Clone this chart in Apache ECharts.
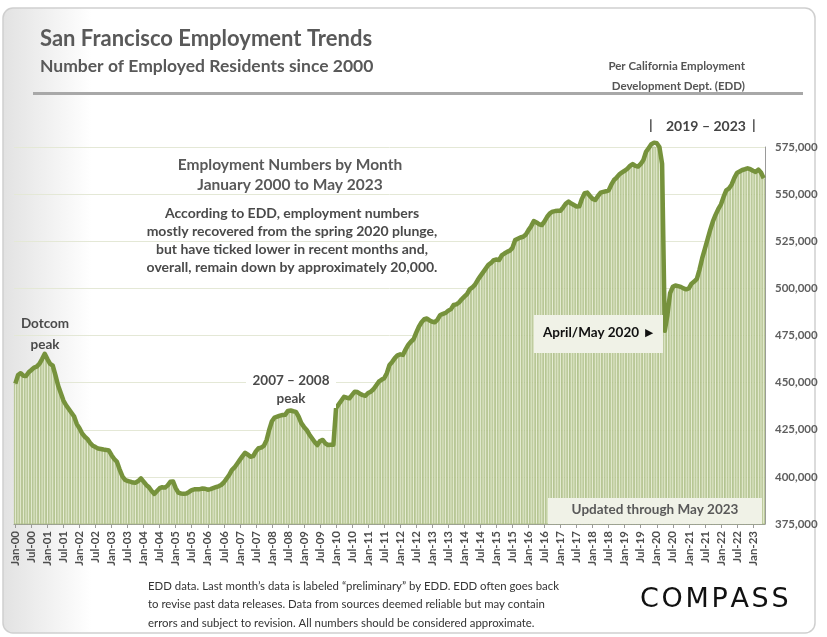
<!DOCTYPE html>
<html>
<head>
<meta charset="utf-8">
<script src="https://cdn.jsdelivr.net/npm/echarts@6/dist/echarts.min.js"></script>
<style>
  html, body { margin: 0; padding: 0; background: #fff; }
  #chart-panel { width: 827px; height: 637px; }
</style>
</head>
<body>
<div id="chart-panel"></div>
<script>
// employed residents, thousands
var y2000 = [449.5, 454, 455, 453.7, 453.5, 455.5, 456.7, 458, 458.5, 460, 462.5, 465.3];
var y2001 = [462.5, 460, 459, 454, 448.5, 444.5, 440.5, 438, 436, 434, 432, 428];
var y2002 = [425.8, 423, 421.3, 420, 418, 416.5, 415.8, 415, 414.8, 414.5, 414.3, 414];
var y2003 = [411.5, 409.5, 408, 404, 400.5, 398.5, 397.8, 397.5, 397, 396.9, 397.8, 399.2];
var y2004 = [397.5, 395.7, 394.5, 392.5, 391, 392.5, 394, 394.5, 394.3, 395.5, 397.4, 397.6];
var y2005 = [394, 391.6, 391.2, 391, 391.2, 392, 393, 393.4, 393.5, 393.5, 393.8, 393.7];
var y2006 = [393.2, 393.5, 394, 394.5, 395, 395.7, 397, 399, 401, 403.6, 405, 407];
var y2007 = [409, 411, 412.8, 411.8, 410.7, 411, 413.5, 415.2, 415.5, 416.5, 419.5, 425];
var y2008 = [429.5, 431.5, 432, 432.5, 432.8, 433, 435, 435.2, 434.8, 434.5, 432, 428.5];
var y2009 = [426.5, 424.9, 422.5, 420.5, 418.5, 416.9, 419, 419.6, 417.8, 416.9, 417, 417];
var y2010 = [436.4, 438.5, 440.5, 442.5, 442, 441.7, 443.5, 445.2, 445, 444, 443.4, 443];
var y2011 = [444.5, 445.2, 446.5, 448.5, 450.5, 451.5, 452.3, 455, 459.4, 461, 463, 464.5];
var y2012 = [465, 464.7, 467.5, 470, 471.7, 473, 476.5, 479.7, 482, 483.6, 484, 483];
var y2013 = [482.3, 482, 483.5, 485.9, 486.5, 487, 488.2, 489, 491.2, 491.5, 492.5, 494.2];
var y2014 = [495.6, 497, 499.5, 500.5, 502, 504.4, 506.5, 508.5, 510.5, 512.5, 513.5, 515];
var y2015 = [515.3, 515, 517.5, 518.5, 519.4, 520, 521.5, 525.6, 526.3, 527, 527.4, 528.5];
var y2016 = [530.9, 533, 535.7, 535, 534, 533.6, 535.5, 538, 539.8, 540.7, 541, 541.2];
var y2017 = [541.2, 543, 545, 546, 545, 544.2, 543.4, 543.5, 547.5, 550.5, 550.8, 549];
var y2018 = [547.5, 546.9, 549, 550.8, 551.2, 551.5, 552, 555, 557.5, 558.8, 560.5, 561.5];
var y2019 = [562.4, 563.5, 565, 566, 565, 564.6, 566, 568.1, 572.5, 574.5, 576.5, 577.3];
var y2020 = [577, 575, 566, 477.5, 486, 497.5, 500.8, 501.5, 501.2, 500.8, 500, 499.5];
var y2021 = [500, 502.5, 503.6, 505, 510, 516, 521, 526, 531, 535.5, 539, 542];
var y2022 = [544.5, 548.5, 552, 553, 555, 558.5, 561.2, 562, 562.8, 563.2, 563.7, 563.2];
var y2023 = [562.4, 561.8, 563, 561.5, 558.4];

var years = ['00','01','02','03','04','05','06','07','08','09','10','11',
             '12','13','14','15','16','17','18','19','20','21','22','23'];
var monthNames = ['Jan','Feb','Mar','Apr','May','Jun','Jul','Aug','Sep','Oct','Nov','Dec'];
var yTicks = [375000, 575000, 25000];

var yearly = [y2000, y2001, y2002, y2003, y2004, y2005, y2006, y2007, y2008, y2009, y2010, y2011,
              y2012, y2013, y2014, y2015, y2016, y2017, y2018, y2019, y2020, y2021, y2022, y2023];

var months = [];
var values = [];
yearly.forEach(function (arr, i) {
    arr.forEach(function (v, j) {
        months.push(monthNames[j] + '-' + years[i]);
        values.push(Math.round(v * 1000));
    });
});

var font = 'Lato, "Open Sans", sans-serif';
var grey = '#595959';
var boxFill = '#f0f2e7';

chartOption = {
    backgroundColor: '#fff',
    animation: false,
    textStyle: { fontFamily: font },
    grid: [{
        top: 147,
        left: 14,
        right: 62,
        bottom: 113,
        show: false
    }],
    xAxis: [{
        type: 'category',
        data: months,
        boundaryGap: true,
        axisLine: { lineStyle: { color: '#9a9a9a', width: 1 } },
        axisTick: {
            show: true,
            interval: 5,
            alignWithLabel: true,
            length: 4,
            lineStyle: { color: '#9a9a9a' }
        },
        axisLabel: {
            interval: 5,
            rotate: 90,
            margin: 7,
            fontSize: 11.5,
            fontWeight: 'bold',
            color: '#4d4d4d',
            fontFamily: font
        },
        splitLine: { show: false }
    }],
    yAxis: [{
        type: 'value',
        position: 'right',
        min: yTicks[0],
        max: yTicks[1],
        interval: yTicks[2],
        axisLine: { show: true, lineStyle: { color: '#9a9a9a' } },
        axisTick: { show: false },
        axisLabel: {
            margin: 10,
            fontSize: 11.5,
            fontWeight: 'bold',
            color: '#5f5f5f',
            fontFamily: font,
            formatter: function (v) {
                return v.toLocaleString('en-US');
            }
        },
        splitLine: { show: true, lineStyle: { color: '#e4e8d6', width: 1 } }
    }],
    series: [{
        type: 'bar',
        data: values,
        barCategoryGap: '0%',
        clip: true,
        itemStyle: {
            color: '#eef3de',
            borderColor: '#a6b97c',
            borderWidth: 0.8
        },
        z: 2
    }, {
        type: 'line',
        data: values,
        symbol: 'none',
        clip: false,
        lineStyle: { color: '#76923c', width: 4.5, join: 'round' },
        z: 3
    }],
    graphic: [
        // card background with soft left shading
        {
            type: 'rect', z: -10, silent: true,
            shape: { x: 3, y: 8, width: 812, height: 625, r: 10 },
            style: {
                fill: new echarts.graphic.LinearGradient(0, 0, 1, 0, [
                    { offset: 0, color: '#e2e2e2' },
                    { offset: 0.11, color: '#ffffff' },
                    { offset: 1, color: '#ffffff' }
                ]),
                stroke: '#cfcfcf', lineWidth: 1.5
            }
        },
        {
            type: 'text', left: 40, top: 28,
            style: { text: 'San Francisco Employment Trends', font: 'bold 22px ' + font, fill: grey }
        },
        {
            type: 'text', left: 40, top: 57,
            style: { text: 'Number of Employed Residents since 2000', font: 'bold 17.5px ' + font, fill: grey }
        },
        {
            type: 'text', right: 82, top: 60,
            style: { text: 'Per California Employment', font: 'bold 11.5px ' + font, fill: '#555', textAlign: 'right' }
        },
        {
            type: 'text', right: 82, top: 80,
            style: { text: 'Development Dept. (EDD)', font: 'bold 11.5px ' + font, fill: '#555', textAlign: 'right' }
        },
        {
            type: 'rect', silent: true,
            shape: { x: 33, y: 92, width: 770, height: 3 },
            style: { fill: '#a8a8a8' }
        },
        {
            type: 'text', left: 649, top: 118,
            style: { text: '|', font: 'bold 14px ' + font, fill: '#444' }
        },
        {
            type: 'text', left: 666, top: 119,
            style: { text: '2019 – 2023', font: 'bold 14px ' + font, fill: '#444' }
        },
        {
            type: 'text', left: 752, top: 118,
            style: { text: '|', font: 'bold 14px ' + font, fill: '#444' }
        },
        {
            type: 'text', z: 10, x: 290, y: 157,
            style: { text: 'Employment Numbers by Month', font: 'bold 15.5px ' + font, fill: grey, textAlign: 'center' }
        },
        {
            type: 'text', z: 10, x: 290, y: 177,
            style: { text: 'January 2000 to May 2023', font: 'bold 15.5px ' + font, fill: grey, textAlign: 'center' }
        },
        {
            type: 'text', z: 10, x: 292, y: 206,
            style: { text: 'According to EDD, employment numbers', font: 'bold 14px ' + font, fill: '#4a4a4a', textAlign: 'center' }
        },
        {
            type: 'text', z: 10, x: 292, y: 224,
            style: { text: 'mostly recovered from the spring 2020 plunge,', font: 'bold 14px ' + font, fill: '#4a4a4a', textAlign: 'center' }
        },
        {
            type: 'text', z: 10, x: 292, y: 242,
            style: { text: 'but have ticked lower in recent months and,', font: 'bold 14px ' + font, fill: '#4a4a4a', textAlign: 'center' }
        },
        {
            type: 'text', z: 10, x: 292, y: 260,
            style: { text: 'overall, remain down by approximately 20,000.', font: 'bold 14px ' + font, fill: '#4a4a4a', textAlign: 'center' }
        },
        {
            type: 'text', z: 10, x: 45, y: 313,
            style: { text: 'Dotcom\npeak', font: 'bold 13.5px ' + font, fill: '#4a4a4a', textAlign: 'center', lineHeight: 21 }
        },
        {
            type: 'rect', z: 9, silent: true,
            shape: { x: 246, y: 370, width: 90, height: 38 },
            style: { fill: '#ffffff' }
        },
        {
            type: 'text', z: 10, x: 291, y: 372,
            style: { text: '2007 – 2008\npeak', font: 'bold 13.5px ' + font, fill: '#4a4a4a', textAlign: 'center', lineHeight: 18 }
        },
        {
            type: 'rect', z: 9, silent: true,
            shape: { x: 534, y: 315, width: 129, height: 38 },
            style: { fill: boxFill }
        },
        {
            type: 'text', z: 10, x: 543, y: 326,
            style: { text: 'April/May 2020 ►', font: 'bold 13.5px ' + font, fill: '#111' }
        },
        {
            type: 'rect', z: 9, silent: true,
            shape: { x: 548, y: 498, width: 214, height: 26 },
            style: { fill: boxFill }
        },
        {
            type: 'text', z: 10, x: 655, y: 503,
            style: { text: 'Updated through May 2023', font: 'bold 13.5px ' + font, fill: grey, textAlign: 'center' }
        },
        {
            type: 'text', left: 148, top: 577,
            style: {
                text: 'EDD data. Last month\u2019s data is labeled \u201cpreliminary\u201d by EDD. EDD often goes back\n' +
                      'to revise past data releases. Data from sources deemed reliable but may contain\n' +
                      'errors and subject to revision. All numbers should be considered approximate.',
                font: '11.4px ' + font, fill: '#333', lineHeight: 18.5
            }
        },
        {
            type: 'text', left: 640, top: 586,
            style: { text: 'C\u200aO\u200aM\u200aP\u200aA\u200aS\u200aS', font: '27px "DejaVu Sans", sans-serif', fill: '#111' }
        }
    ]
};

var chartPanel = document.getElementById('chart-panel');
var myChart = echarts.init(chartPanel);
myChart.setOption(chartOption);
</script>
</body>
</html>
